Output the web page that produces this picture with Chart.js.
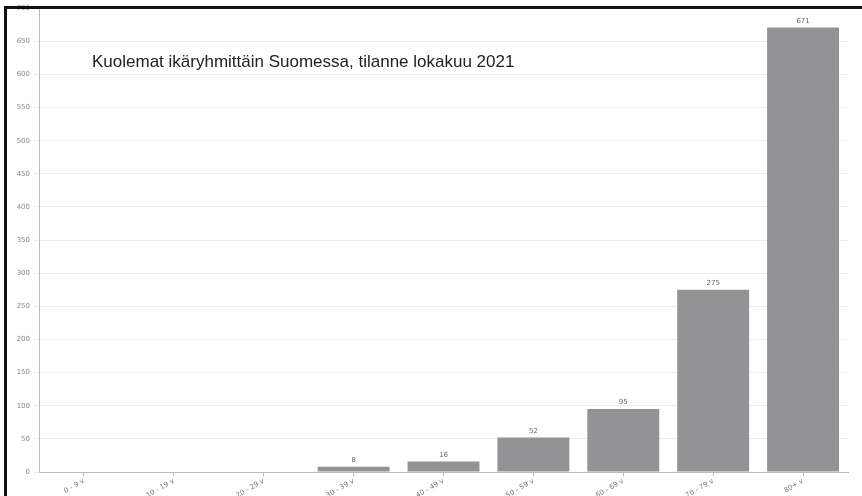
<!DOCTYPE html>
<html>
<head>
<meta charset="utf-8">
<script src="https://cdn.jsdelivr.net/npm/chart.js@4"></script>
<style>
  html, body { margin: 0; padding: 0; background: #fff; }
  #wrap { position: relative; width: 862px; height: 496px; overflow: hidden; }
  #c { position: absolute; left: 0; top: 0; }
  .frame-top { position: absolute; left: 4px; top: 6px; width: 858px; height: 3px; background: #111; }
  .frame-left { position: absolute; left: 4px; top: 6px; width: 3px; height: 490px; background: #111; }
</style>
</head>
<body>
<div id="wrap">
  <canvas id="c" width="862" height="496"></canvas>
  <div class="frame-top"></div>
  <div class="frame-left"></div>
</div>
<script>
  const ikaryhmat = ["0 - 9 v","10 - 19 v","20 - 29 v","30 - 39 v","40 - 49 v","50 - 59 v","60 - 69 v","70 - 79 v","80+ v"];
  const kuolemat = [0, 0, 0, 8, 16, 52, 95, 275, 671];
  const otsikko = "Kuolemat ikäryhmittäin Suomessa, tilanne lokakuu 2021";

  // arvot palkkien ylle
  const arvoPlugin = {
    id: "arvot",
    afterDatasetsDraw(chart) {
      const ctx = chart.ctx;
      const meta = chart.getDatasetMeta(0);
      ctx.save();
      ctx.font = "7px 'DejaVu Sans'";
      ctx.fillStyle = "#666";
      ctx.textAlign = "center";
      ctx.textBaseline = "bottom";
      meta.data.forEach((bar, i) => {
        if (kuolemat[i] > 0) ctx.fillText(kuolemat[i], bar.x, bar.y - 3);
      });
      ctx.restore();
    }
  };

  const otsikkoPlugin = {
    id: "otsikko",
    afterDraw(chart) {
      const ctx = chart.ctx;
      const a = chart.chartArea;
      ctx.save();
      ctx.font = "17px 'Liberation Sans', Arial, sans-serif";
      ctx.fillStyle = "#222";
      ctx.textBaseline = "alphabetic";
      ctx.fillText(otsikko, a.left + 53, a.top + 59);
      ctx.restore();
    }
  };

  const ctx = document.getElementById("c").getContext("2d");
  new Chart(ctx, {
    type: "bar",
    data: {
      labels: ikaryhmat,
      datasets: [{
        data: kuolemat,
        backgroundColor: "#939396",
        categoryPercentage: 0.8,
        barPercentage: 1.0
      }]
    },
    options: {
      responsive: false,
      animation: false,
      layout: { padding: { top: 8, right: 14, left: 0, bottom: 0 } },
      plugins: { legend: { display: false }, tooltip: { enabled: false } },
      scales: {
        x: {
          grid: { display: true, drawOnChartArea: false, offset: false, tickLength: 4, color: "#bbb" },
          border: { color: "#bbb" },
          ticks: {
            color: "#777",
            font: { size: 7, family: "'DejaVu Sans'" },
            minRotation: 30,
            maxRotation: 30,
            padding: 1
          },
          afterFit(scale) { scale.height = 24; }
        },
        y: {
          min: 0,
          max: 700,
          grid: { color: "#ececec", tickLength: 5 },
          border: { color: "#bbb" },
          ticks: {
            stepSize: 50,
            color: "#888",
            font: { size: 7, family: "'DejaVu Sans'" },
            padding: 4
          },
          afterFit(scale) { scale.width = 39; }
        }
      }
    },
    plugins: [arvoPlugin, otsikkoPlugin]
  });
</script>
</body>
</html>
